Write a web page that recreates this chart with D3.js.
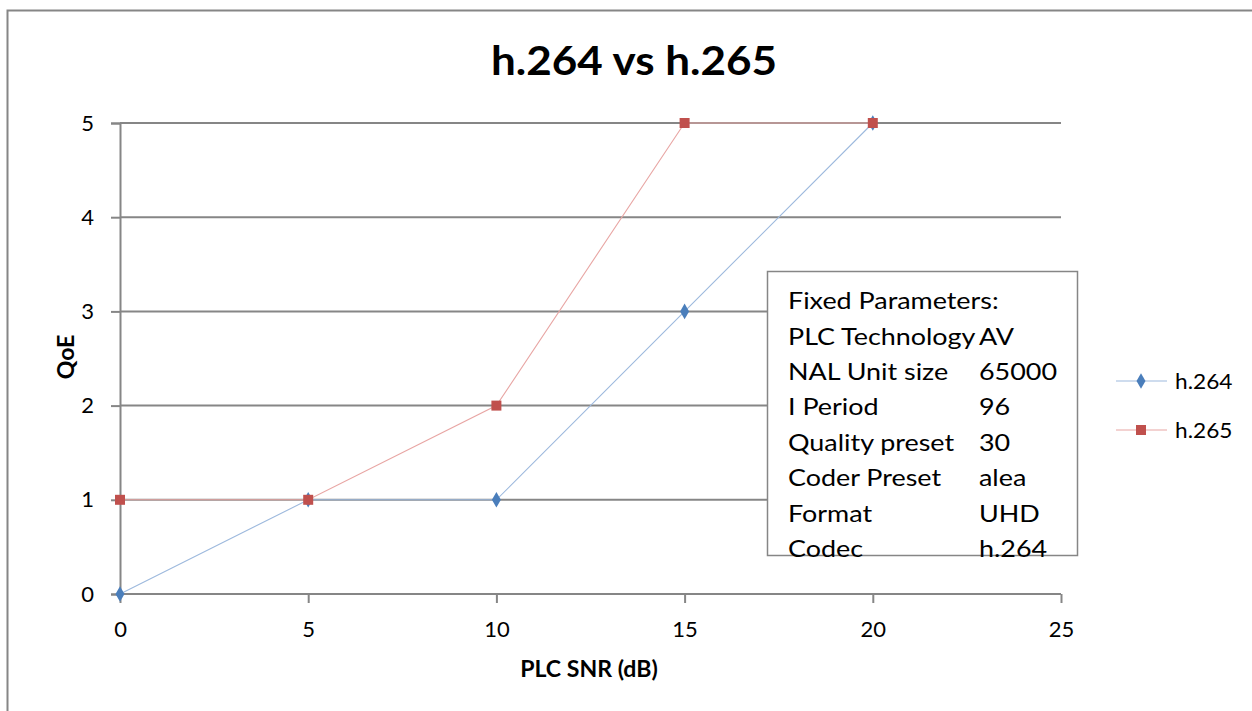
<!DOCTYPE html>
<html>
<head>
<meta charset="utf-8">
<script src="https://cdn.jsdelivr.net/npm/d3@7"></script>
<style>
  html, body { margin: 0; padding: 0; background: #fff; }
  svg { display: block; font-family: Lato, "Open Sans", sans-serif; }
</style>
</head>
<body>
<svg id="chart" width="1252" height="711"></svg>
<script>
// Chart data
const snr = [0, 5, 10, 15, 20];
const qoeH264 = [0, 1, 1, 3, 5];
const qoeH265 = [1, 1, 2, 5, 5];
const seriesNames = ["h.264", "h.265"];
const xTicks = [0, 5, 10, 15, 20, 25];
const yTicks = [0, 1, 2, 3, 4, 5];
const paramNames = ["PLC Technology", "NAL Unit size", "I Period", "Quality preset", "Coder Preset", "Format", "Codec"];
const paramValues = ["AV", "65000", "96", "30", "alea", "UHD", "h.264"];

const svg = d3.select("#chart");
const axisGrey = "#868686";
const fontFamily = "Lato, 'Open Sans', sans-serif";

// Place a text at (x, y) with a horizontal widening factor k
function placeText(sel, x, y, k) {
  return sel.attr("x", 0).attr("y", 0)
    .attr("transform", `translate(${x},${y}) scale(${k},1)`);
}

// Outer chart frame
svg.append("rect")
  .attr("x", 7.5).attr("y", 10.5)
  .attr("width", 1260).attr("height", 720)
  .attr("fill", "none").attr("stroke", axisGrey).attr("stroke-width", 2);

const plot = { left: 120, right: 1061, top: 123, bottom: 594 };
const x = d3.scaleLinear().domain([0, 25]).range([plot.left, plot.right]);
const y = d3.scaleLinear().domain([0, 5]).range([plot.bottom, plot.top]);

// Horizontal gridlines
svg.append("g").selectAll("line").data(yTicks.filter(d => d > 0)).join("line")
  .attr("x1", plot.left).attr("x2", plot.right)
  .attr("y1", d => y(d)).attr("y2", d => y(d))
  .attr("stroke", axisGrey).attr("stroke-width", 2);

// Y axis
const yAxis = svg.append("g")
  .attr("transform", `translate(${plot.left},0)`)
  .call(d3.axisLeft(y).tickValues(yTicks).tickSize(9).tickPadding(17).tickFormat(d3.format("d")));
yAxis.attr("font-family", fontFamily).attr("font-size", 22);
yAxis.select(".domain").attr("stroke", axisGrey).attr("stroke-width", 2);
yAxis.selectAll(".tick line").attr("stroke", axisGrey).attr("stroke-width", 2);
yAxis.selectAll(".tick text").attr("fill", "#000");

// X axis
const xAxis = svg.append("g")
  .attr("transform", `translate(0,${plot.bottom})`)
  .call(d3.axisBottom(x).tickValues(xTicks).tickSize(9).tickPadding(18).tickFormat(d3.format("d")));
xAxis.attr("font-family", fontFamily).attr("font-size", 22);
xAxis.select(".domain").attr("stroke", axisGrey).attr("stroke-width", 2)
  .attr("d", `M${plot.left},0H${plot.right}`);
xAxis.selectAll(".tick line").attr("stroke", axisGrey).attr("stroke-width", 2);
xAxis.selectAll(".tick text").attr("fill", "#000");

// Series
const series = [
  { name: seriesNames[0], values: qoeH264, line: "#9DB9DD", fill: "#4A7EBB", shape: d3.symbolDiamond, size: 70 },
  { name: seriesNames[1], values: qoeH265, line: "#E8A6A4", fill: "#C0504D", shape: d3.symbolSquare, size: 100 }
];

const line = d3.line().x(d => x(d[0])).y(d => y(d[1]));

series.forEach(s => {
  const pts = snr.map((v, i) => [v, s.values[i]]);
  svg.append("path").datum(pts)
    .attr("d", line).attr("fill", "none")
    .attr("stroke", s.line).attr("stroke-width", 1.1);
});
series.forEach(s => {
  const pts = snr.map((v, i) => [v, s.values[i]]);
  svg.append("g").selectAll("path").data(pts).join("path")
    .attr("transform", d => `translate(${x(d[0])},${y(d[1])})`)
    .attr("d", d3.symbol().type(s.shape).size(s.size))
    .attr("fill", s.fill);
});

// Title and axis titles
placeText(svg.append("text"), 634, 75, 1.1)
  .attr("text-anchor", "middle").attr("font-size", 40).attr("font-weight", "bold")
  .text("h.264 vs h.265");
placeText(svg.append("text"), 589, 677, 1.05)
  .attr("text-anchor", "middle").attr("font-size", 22).attr("font-weight", "bold")
  .text("PLC SNR (dB)");
svg.append("text")
  .attr("transform", "translate(74,357) rotate(-90) scale(1.05,1)")
  .attr("text-anchor", "middle").attr("font-size", 22).attr("font-weight", "bold")
  .text("QoE");

// Legend
const legend = svg.append("g");
series.forEach((s, i) => {
  const ly = 381 + i * 49;
  legend.append("line").attr("x1", 1116).attr("x2", 1167).attr("y1", ly).attr("y2", ly)
    .attr("stroke", s.line).attr("stroke-width", 1.1);
  legend.append("path").attr("transform", `translate(1141,${ly})`)
    .attr("d", d3.symbol().type(s.shape).size(s.size)).attr("fill", s.fill);
  placeText(legend.append("text"), 1175, ly + 8, 1.03)
    .attr("font-size", 22).text(s.name);
});

// Parameter box
const box = svg.append("g");
box.append("rect").attr("x", 767.5).attr("y", 271.5).attr("width", 310).attr("height", 284)
  .attr("fill", "#fff").attr("stroke", axisGrey).attr("stroke-width", 1.5);
const boxK = 1.17;
placeText(box.append("text"), 788, 309, boxK).attr("font-size", 23).text("Fixed Parameters:");
paramNames.forEach((n, i) => {
  const ty = 344.5 + i * 35.4;
  placeText(box.append("text"), 788, ty, boxK).attr("font-size", 23).text(n);
  placeText(box.append("text"), 979, ty, boxK).attr("font-size", 23).text(paramValues[i]);
});
</script>
</body>
</html>
